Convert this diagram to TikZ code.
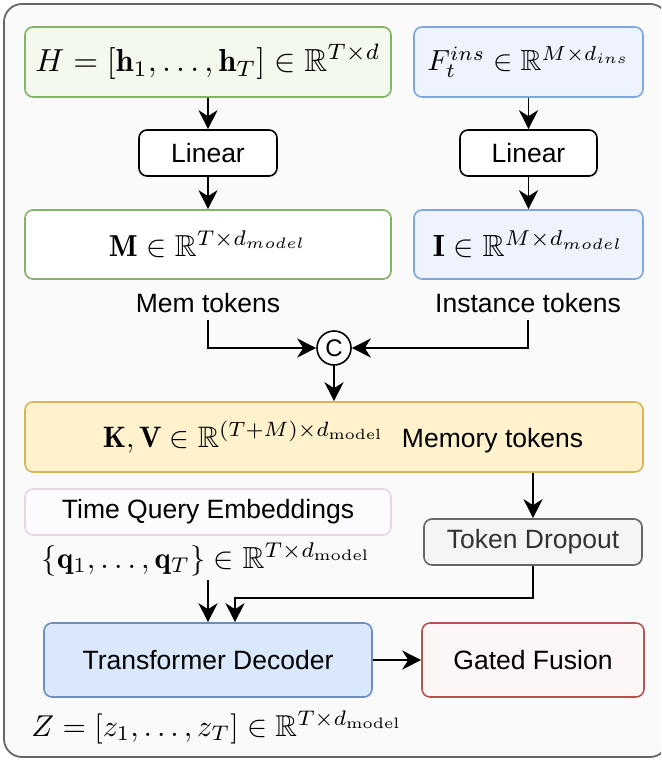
\documentclass[tikz,border=0pt]{standalone}
\usepackage{fontspec}
\usepackage{amsmath,amssymb}
\usepackage{graphicx}
\usetikzlibrary{arrows.meta}
\newfontfamily\labfont{Liberation Sans}
\newcommand{\fitmath}[2]{\resizebox{#1}{!}{$#2$}}
\definecolor{framec}{HTML}{666666}
\definecolor{framef}{HTML}{FAFAFA}
\definecolor{greenc}{HTML}{82B366}
\definecolor{greenf}{HTML}{F4F9EE}
\definecolor{bluec}{HTML}{7EA6E0}
\definecolor{bluef}{HTML}{EEF3FE}
\definecolor{yellowc}{HTML}{D6B656}
\definecolor{yellowf}{HTML}{FFF2CC}
\definecolor{pinkc}{HTML}{E6D5E3}
\definecolor{pinkf}{HTML}{FDFBFE}
\definecolor{grayc}{HTML}{666666}
\definecolor{grayf}{HTML}{F5F5F5}
\definecolor{grayt}{HTML}{333333}
\definecolor{tdc}{HTML}{6C8EBF}
\definecolor{tdf}{HTML}{DAE8FC}
\definecolor{redc}{HTML}{B85450}
\definecolor{redf}{HTML}{FDF6F6}
\tikzset{
  box/.style={draw, rounded corners=8pt, line width=1.6pt, inner sep=0pt, anchor=center},
  lab/.style={font=\labfont\fontsize{26.5pt}{30pt}\selectfont},
  arr/.style={line width=1.8pt, -{Stealth[length=19pt,width=19pt,inset=6pt]}},
  toklab/.style={lab, inner xsep=0pt, inner ysep=8pt, text height=19pt, text depth=0pt, anchor=center},
}
\begin{document}
\begin{tikzpicture}[x=1pt,y=-1pt]
\useasboundingbox (0,0) rectangle (661,760);
\clip (0,0) rectangle (661,760);
\draw[draw=framec, fill=framef, line width=1.8pt, rounded corners=18pt] (4,4) rectangle (668,757);

% top row
\node[box, draw=greenc, fill=greenf, minimum width=366pt, minimum height=70pt] (H) at (208,62)
  {\fitmath{345pt}{H = [\mathbf{h}_1, \ldots, \mathbf{h}_T] \in \mathbb{R}^{T\times d}}};
\node[box, draw=bluec, fill=bluef, minimum width=229pt, minimum height=70pt] (F) at (528.5,62)
  {\fitmath{202pt}{F_t^{ins} \in \mathbb{R}^{M\times d_{ins}}}};

% linear
\node[box, draw=black, fill=white, lab, minimum width=138pt, minimum height=46pt] (linL) at (208,153) {Linear};
\node[box, draw=black, fill=white, lab, minimum width=137pt, minimum height=46pt] (linR) at (528.5,153) {Linear};

% M / I
\node[box, draw=greenc, fill=white, minimum width=366pt, minimum height=69pt] (M) at (208,244.5)
  {\fitmath{198pt}{\mathbf{M} \in \mathbb{R}^{T\times d_{model}}}\hspace{16pt}};
\node[box, draw=bluec, fill=bluef, minimum width=229pt, minimum height=69pt] (I) at (528.5,244.5)
  {\fitmath{191pt}{\mathbf{I} \in \mathbb{R}^{M\times d_{model}}}\hspace{20pt}};

% token labels
\node[toklab] (ml) at (208,302.5) {Mem tokens};
\node[toklab] (il) at (528,302.5) {Instance tokens};

% concat circle
\node[circle, draw, line width=1.6pt, fill=white, minimum size=34pt, inner sep=0pt,
      font=\labfont\fontsize{24pt}{24pt}\selectfont] (cc) at (334,348) {C};

% KV
\node[box, draw=yellowc, fill=yellowf, minimum width=618pt, minimum height=70pt] (kv) at (334,437)
  {\hspace{18pt}\fitmath{281pt}{\mathbf{K}, \mathbf{V} \in \mathbb{R}^{(T+M)\times d_{\mathrm{model}}}}\hspace{18pt}{\labfont\fontsize{26.5pt}{30pt}\selectfont Memory tokens}};

% time query
\node[box, draw=pinkc, fill=pinkf, lab, minimum width=366pt, minimum height=46pt] (tq) at (208,512) {Time Query Embeddings};
\node[inner sep=0pt] (qm) at (206.5,559)
  {\fitmath{329pt}{\{\mathbf{q}_1, \ldots, \mathbf{q}_T\} \in \mathbb{R}^{T\times d_{\mathrm{model}}}}};
\coordinate (qs) at (208,580);

% token dropout
\node[box, draw=grayc, fill=grayf, lab, text=grayt, minimum width=218pt, minimum height=46pt] (drop) at (533,542) {Token Dropout};

% decoder and fusion
\node[box, draw=tdc, fill=tdf, lab, minimum width=328pt, minimum height=74pt] (td) at (208,660) {Transformer Decoder};
\node[box, draw=redc, fill=redf, lab, minimum width=222pt, minimum height=74pt] (gf) at (533,660) {Gated Fusion};
\node[inner sep=0pt] (zm) at (217,727)
  {\fitmath{371pt}{Z = [z_1, \ldots, z_T] \in \mathbb{R}^{T\times d_{\mathrm{model}}}}};

% connectors
\draw[arr] (H.south) -- (linL.north);
\draw[arr] (F.south) -- (linR.north);
\draw[arr] (linL.south) -- (M.north);
\draw[arr] (linR.south) -- (I.north);
\draw[arr] (ml.south) |- (cc.west);
\draw[arr] (il.south) |- (cc.east);
\draw[arr] (cc.south) -- (cc.south |- kv.north);
\draw[arr] (drop.north |- kv.south) -- (drop.north);
\draw[arr] (qs) -- (qs |- td.north);
\draw[arr] (drop.south) -- ++(0,32) -| ([xshift=27pt]td.north);
\draw[arr] (td.east) -- (gf.west);
\end{tikzpicture}
\end{document}
